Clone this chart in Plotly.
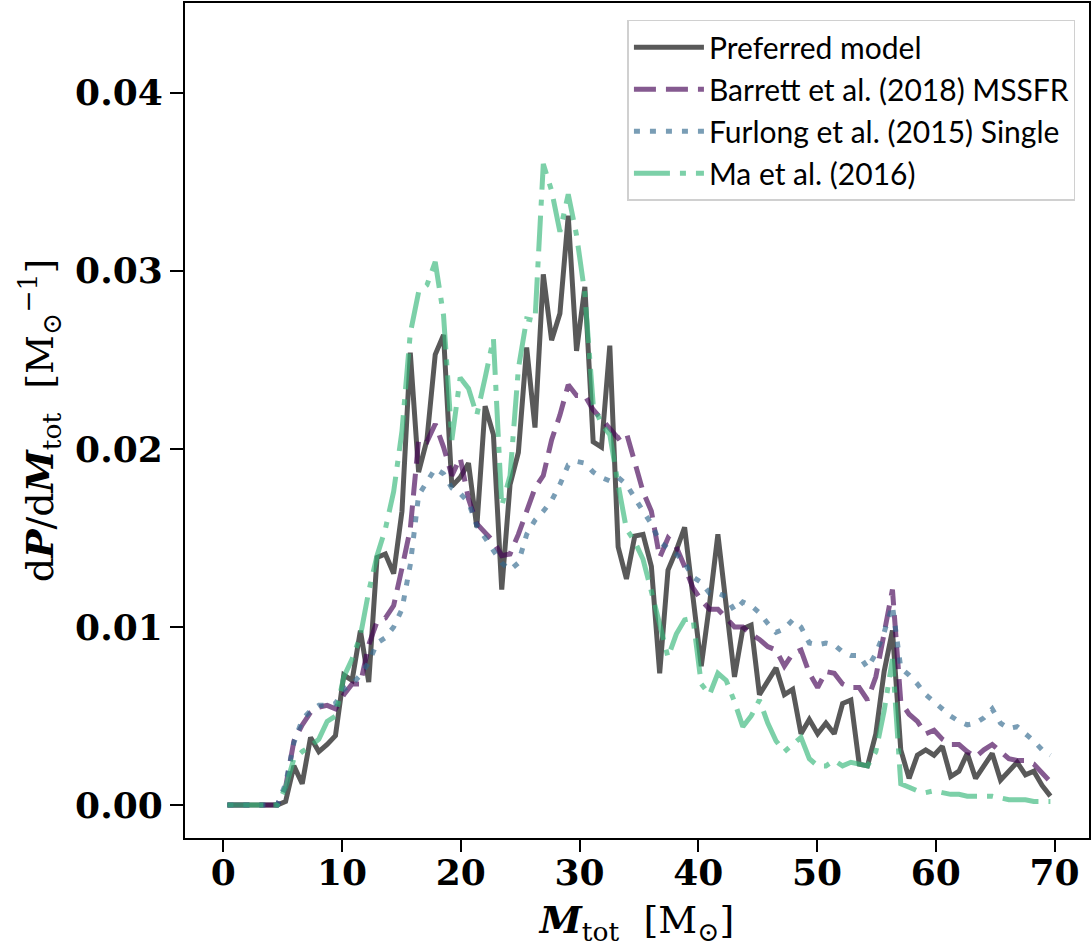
import plotly.graph_objects as go

# Bin centres of total mass [M_sun]
mass_bins = [0.35, 1.05, 1.75, 2.45, 3.15, 3.85, 4.55, 5.25, 5.95, 6.65,
             7.35, 8.05, 8.75, 9.45, 10.15, 10.85, 11.55, 12.25, 12.95, 13.65,
             14.35, 15.05, 15.75, 16.45, 17.15, 17.85, 18.55, 19.25, 19.95, 20.65,
             21.35, 22.05, 22.75, 23.45, 24.15, 24.85, 25.55, 26.25, 26.95, 27.65,
             28.35, 29.05, 29.75, 30.45, 31.15, 31.85, 32.55, 33.25, 33.95, 34.65,
             35.35, 36.05, 36.75, 37.45, 38.15, 38.85, 39.55, 40.25, 40.95, 41.65,
             42.35, 43.05, 43.75, 44.45, 45.15, 45.85, 46.55, 47.25, 47.95, 48.65,
             49.35, 50.05, 50.75, 51.45, 52.15, 52.85, 53.55, 54.25, 54.95, 55.65,
             56.35, 57.05, 57.75, 58.45, 59.15, 59.85, 60.55, 61.25, 61.95, 62.65,
             63.35, 64.05, 64.75, 65.45, 66.15, 66.85, 67.55, 68.25, 68.95, 69.65]

preferred = [0, 0, 0, 0, 0, 0, 0, 0.0002, 0.0022, 0.0012,
             0.0038, 0.0030, 0.0034, 0.0039, 0.0073, 0.0070, 0.0098, 0.0069, 0.0139, 0.0141,
             0.0130, 0.0165, 0.0254, 0.0187, 0.0205, 0.0253, 0.0264, 0.0179, 0.0184, 0.0192,
             0.0156, 0.0224, 0.0208, 0.0121, 0.0180, 0.0198, 0.0257, 0.0212, 0.0298, 0.0261,
             0.0276, 0.0331, 0.0255, 0.0291, 0.0204, 0.0201, 0.0258, 0.0145, 0.0127, 0.0151,
             0.0152, 0.0134, 0.0074, 0.0132, 0.0143, 0.0156, 0.0117, 0.0078, 0.0113, 0.0152,
             0.0112, 0.0072, 0.0099, 0.0101, 0.0062, 0.0070, 0.0077, 0.0062, 0.0065, 0.0040,
             0.0048, 0.0040, 0.0046, 0.0040, 0.0057, 0.0059, 0.0023, 0.0022, 0.0040, 0.0075,
             0.0098, 0.0031, 0.0015, 0.0028, 0.0031, 0.0028, 0.0033, 0.0016, 0.0019, 0.0029,
             0.0015, 0.0022, 0.0029, 0.0014, 0.0019, 0.0024, 0.0017, 0.0019, 0.0011, 0.0005]

barrett = [0, 0, 0, 0, 0, 0, 0, 0.0010, 0.0036, 0.0045,
           0.0052, 0.0055, 0.0056, 0.0054, 0.0062, 0.0068, 0.0068, 0.0090, 0.0103, 0.0105,
           0.0112, 0.0133, 0.0155, 0.0205, 0.0204, 0.0214, 0.0201, 0.0185, 0.0195, 0.0172,
           0.0158, 0.0153, 0.0148, 0.0140, 0.0141, 0.0152, 0.0165, 0.0178, 0.0185, 0.0205,
           0.0219, 0.0236, 0.0230, 0.0230, 0.0222, 0.0217, 0.0212, 0.0206, 0.0209, 0.0192,
           0.0176, 0.0165, 0.0139, 0.0150, 0.0145, 0.0134, 0.0122, 0.0115, 0.0110, 0.0110,
           0.0105, 0.0100, 0.0100, 0.0096, 0.0093, 0.0089, 0.0087, 0.0078, 0.0085, 0.0087,
           0.0074, 0.0066, 0.0075, 0.0074, 0.0068, 0.0066, 0.0066, 0.0059, 0.0072, 0.0098,
           0.0121, 0.0058, 0.0051, 0.0047, 0.0040, 0.0042, 0.0037, 0.0034, 0.0034, 0.0030,
           0.0027, 0.0031, 0.0034, 0.0030, 0.0026, 0.0025, 0.0025, 0.0023, 0.0018, 0.0013]

furlong = [0, 0, 0, 0, 0, 0, 0, 0.0012, 0.0035, 0.0048,
           0.0053, 0.0056, 0.0056, 0.0057, 0.0065, 0.0068, 0.0073, 0.0080, 0.0091, 0.0094,
           0.0100, 0.0110, 0.0135, 0.0174, 0.0182, 0.0189, 0.0186, 0.0178, 0.0175, 0.0170,
           0.0157, 0.0150, 0.0143, 0.0136, 0.0132, 0.0136, 0.0152, 0.0160, 0.0165, 0.0171,
           0.0180, 0.0191, 0.0193, 0.0192, 0.0187, 0.0184, 0.0182, 0.0184, 0.0180, 0.0172,
           0.0165, 0.0158, 0.0148, 0.0144, 0.0141, 0.0136, 0.0128, 0.0125, 0.0119, 0.0119,
           0.0117, 0.0109, 0.0114, 0.0112, 0.0108, 0.0102, 0.0097, 0.0099, 0.0104, 0.0100,
           0.0091, 0.0090, 0.0091, 0.0090, 0.0086, 0.0084, 0.0084, 0.0077, 0.0085, 0.0097,
           0.0112, 0.0077, 0.0073, 0.0068, 0.0062, 0.0058, 0.0054, 0.0050, 0.0047, 0.0045,
           0.0046, 0.0049, 0.0054, 0.0046, 0.0043, 0.0044, 0.0040, 0.0036, 0.0031, 0.0028]

ma = [0, 0, 0, 0, 0, 0, 0, 0.0010, 0.0026, 0.0030,
      0.0033, 0.0037, 0.0047, 0.0050, 0.0072, 0.0082, 0.0095, 0.0120, 0.0140, 0.0155,
      0.0176, 0.0210, 0.0265, 0.0288, 0.0292, 0.0305, 0.0275, 0.0205, 0.0240, 0.0234,
      0.0219, 0.0240, 0.0262, 0.0168, 0.0185, 0.0245, 0.0273, 0.0272, 0.0360, 0.0345,
      0.0322, 0.0343, 0.0320, 0.0287, 0.0225, 0.0214, 0.0208, 0.0180, 0.0155, 0.0148,
      0.0138, 0.0120, 0.0100, 0.0083, 0.0096, 0.0104, 0.0105, 0.0068, 0.0062, 0.0074,
      0.0070, 0.0058, 0.0044, 0.0050, 0.0059, 0.0046, 0.0036, 0.0030, 0.0034, 0.0038,
      0.0026, 0.0022, 0.0022, 0.0025, 0.0022, 0.0024, 0.0023, 0.0022, 0.0030, 0.0053,
      0.0082, 0.0012, 0.0010, 0.0008, 0.0007, 0.0008, 0.0007, 0.0006, 0.0006, 0.0005,
      0.0005, 0.0005, 0.0005, 0.0004, 0.0003, 0.0003, 0.0003, 0.0002, 0.0002, 0.0002]

x_ticks = [0, 10, 20, 30, 40, 50, 60, 70]
y_ticks = [0.00, 0.01, 0.02, 0.03, 0.04]
y_tick_labels = ["0.00", "0.01", "0.02", "0.03", "0.04"]

series = [
    ("Preferred model", preferred, "rgba(0,0,0,0.65)", "solid"),
    ("Barrett et al. (2018) MSSFR", barrett, "rgba(68,1,84,0.65)", "22px,10px"),
    ("Furlong et al. (2015) Single", furlong, "rgba(49,104,142,0.65)", "6px,10px"),
    ("Ma et al. (2016)", ma, "rgba(53,183,121,0.65)", "36px,10px,6px,10px"),
]

fig = go.Figure()
for name, vals, color, dash in series:
    fig.add_trace(go.Scatter(
        x=mass_bins, y=vals, mode="lines", name=name,
        line=dict(color=color, width=5, dash=dash),
    ))

tick_font = dict(family="DejaVu Serif", size=36, color="black", weight="bold")
title_font = dict(family="DejaVu Serif", size=38, color="black")

fig.update_layout(
    width=1092, height=951,
    margin=dict(l=185, r=2, t=1, b=113),
    paper_bgcolor="white", plot_bgcolor="white",
    showlegend=True,
    legend=dict(
        x=0.985, y=0.98, xanchor="right", yanchor="top",
        bgcolor="rgba(255,255,255,0.9)", bordercolor="#d0d0d0", borderwidth=1.5,
        font=dict(family="Lato", size=30, color="black"),
        itemwidth=70, tracegroupgap=0,
    ),
)
fig.update_xaxes(
    range=[-3.22, 72.9], tickvals=x_ticks, ticktext=[str(v) for v in x_ticks],
    ticks="outside", ticklen=12, tickwidth=2, tickcolor="black",
    showline=True, linecolor="black", linewidth=2, mirror=True,
    showgrid=False, zeroline=False, tickfont=tick_font, ticklabelstandoff=-10,
    title=dict(text="<b><i>M</i></b><sub>tot</sub>  [M<sub>⊙</sub>]", font=title_font, standoff=14),
)
fig.update_yaxes(
    range=[-0.00185, 0.04504], tickvals=y_ticks, ticktext=y_tick_labels,
    ticks="outside", ticklen=13, tickwidth=2, tickcolor="black",
    showline=True, linecolor="black", linewidth=2, mirror=True,
    showgrid=False, zeroline=False, tickfont=tick_font,
    title=dict(text="d<b><i>P</i></b>/d<b><i>M</i></b><sub>tot</sub>  [M<sub>⊙</sub><sup>−1</sup>]",
               font=title_font, standoff=10),
)

fig.write_html("out.html")
